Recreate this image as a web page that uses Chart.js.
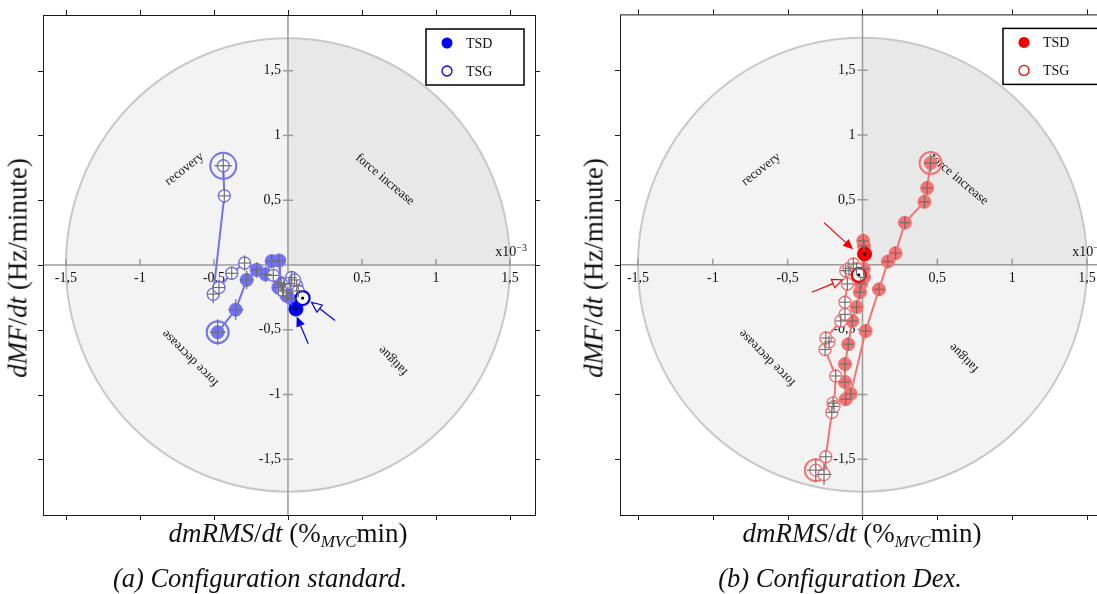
<!DOCTYPE html>
<html>
<head>
<meta charset="utf-8">
<script src="https://cdn.jsdelivr.net/npm/chart.js@4.4.0/dist/chart.umd.min.js"></script>
<style>
  body { margin: 0; background: #fff; width: 1097px; height: 594px; overflow: hidden; position: relative;
         font-family: "Liberation Serif", "DejaVu Serif", serif; color: #111; }
  .panel { position: absolute; top: 0; width: 560px; height: 545px; }
  .ytitle { position: absolute; top: 268px; font-size: 27px; white-space: nowrap;
            transform: translate(-50%, -50%) rotate(-90deg); }
  .xtitle { position: absolute; top: 533px; font-size: 27px; white-space: nowrap; transform: translate(-50%, -50%); }
  .caption { position: absolute; top: 578px; font-size: 26.5px; font-style: italic; white-space: nowrap; transform: translate(-50%, -50%); }
  i { font-style: italic; }
  sub { font-size: 17px; font-style: italic; vertical-align: -5px; line-height: 0; }
</style>
</head>
<body>
<div class="panel" style="left:0"><canvas id="std"></canvas></div>
<div class="panel" style="left:577px"><canvas id="dex"></canvas></div>

<div class="ytitle" style="left:18px"><i>dMF</i>/<i>dt</i> (Hz/minute)</div>
<div class="ytitle" style="left:594px"><i>dMF</i>/<i>dt</i> (Hz/minute)</div>
<div class="xtitle" style="left:288px"><i>dmRMS</i>/<i>dt</i> (%<sub>MVC</sub>min)</div>
<div class="xtitle" style="left:862px"><i>dmRMS</i>/<i>dt</i> (%<sub>MVC</sub>min)</div>
<div class="caption" style="left:260px">(a) Configuration standard.</div>
<div class="caption" style="left:840px">(b) Configuration Dex.</div>

<script>
// axes (x in 10^-3 %MVC/min, y in Hz/minute)
const yRange = [-1.93, 1.93];
const stdXRange = [-1.655, 1.669];
const dexXRange = [-1.62, 1.667];
const tickValues = [-1.5, -1, -0.5, 0.5, 1, 1.5];
const diskRadius = [1.5, 1.75];

// (a) configuration standard
const stdTsdX = [-0.475, -0.353, -0.279, -0.211, -0.151, -0.110, -0.059, -0.054, -0.065, -0.045, -0.032, -0.009, 0.000, 0.025, 0.054];
const stdTsdY = [-0.519, -0.345, -0.115, -0.038, -0.072, 0.030, 0.035, -0.136, -0.174, -0.160, -0.200, -0.238, -0.215, -0.263, -0.340];
const stdTsdXErr = [0.055, 0.05, 0.045, 0.04, 0.04, 0.035, 0.035, 0.035, 0.035, 0.035, 0.035, 0.035, 0.035, 0.035, 0];
const stdTsdYErr = [0.10, 0.08, 0.07, 0.06, 0.06, 0.05, 0.05, 0.05, 0.05, 0.05, 0.05, 0.05, 0.05, 0.05, 0];
const stdTsgX = [-0.437, -0.430, -0.505, -0.466, -0.380, -0.293, -0.099, -0.027, -0.036, 0.014, 0.025, 0.059, 0.045, 0.070, 0.099];
const stdTsgY = [0.766, 0.534, -0.225, -0.174, -0.064, 0.015, -0.080, -0.148, -0.194, -0.143, -0.097, -0.161, -0.115, -0.200, -0.255];
const stdTsgXErr = [0.06, 0.04, 0.04, 0.04, 0.04, 0.04, 0.035, 0.035, 0.035, 0.035, 0.035, 0.035, 0.035, 0.035, 0];
const stdTsgYErr = [0.09, 0.06, 0.07, 0.06, 0.05, 0.06, 0.05, 0.05, 0.05, 0.05, 0.05, 0.05, 0.05, 0.05, 0];

// (b) configuration Dex
const dexTsdX = [0.455, 0.432, 0.414, 0.283, 0.221, 0.170, 0.110, 0.021, -0.079, -0.112, -0.117, -0.117, -0.095, -0.068, -0.039, -0.017, -0.010, 0.010, 0.008, 0.005, 0.010, 0.014];
const dexTsdY = [0.784, 0.592, 0.485, 0.324, 0.089, 0.025, -0.190, -0.511, -0.996, -1.037, -0.904, -0.766, -0.613, -0.434, -0.327, -0.212, -0.148, -0.097, -0.033, 0.184, 0.146, 0.082];
const dexTsdXErr = [0.045, 0.035, 0.035, 0.035, 0.035, 0.035, 0.035, 0.035, 0.035, 0.035, 0.035, 0.035, 0.035, 0.035, 0.035, 0.035, 0.035, 0.035, 0.035, 0.035, 0.035, 0];
const dexTsdYErr = [0.07, 0.05, 0.05, 0.05, 0.05, 0.05, 0.05, 0.05, 0.05, 0.05, 0.05, 0.05, 0.05, 0.05, 0.05, 0.05, 0.05, 0.05, 0.05, 0.05, 0.05, 0];
const dexTsgX = [-0.312, -0.257, -0.245, -0.205, -0.197, -0.190, -0.179, -0.250, -0.223, -0.245, -0.145, -0.117, -0.117, -0.101, -0.112, -0.090, -0.061, -0.040, -0.025];
const dexTsgY = [-1.584, -1.617, -1.481, -1.139, -1.067, -1.093, -0.858, -0.654, -0.595, -0.565, -0.434, -0.383, -0.289, -0.148, -0.046, -0.028, 0.005, -0.030, -0.079];
const dexTsgXErr = [0.06, 0.05, 0.04, 0.035, 0.035, 0.035, 0.035, 0.035, 0.035, 0.035, 0.035, 0.035, 0.035, 0.035, 0.035, 0.035, 0.035, 0.035, 0];
const dexTsgYErr = [0.09, 0.08, 0.05, 0.05, 0.05, 0.05, 0.05, 0.05, 0.05, 0.05, 0.05, 0.05, 0.05, 0.05, 0.05, 0.05, 0.05, 0.05, 0];

// quadrant labels: [text, x, y, angle in degrees]
const regionLabels = ['recovery', 'force increase', 'force decrease', 'fatigue'];
const stdLabelPos = [[-0.70, 0.74, -38], [0.655, 0.66, 40], [-0.66, -0.72, 225], [0.71, -0.74, 225]];
const dexLabelPos = [[-0.677, 0.736, -38], [0.643, 0.659, 40], [-0.637, -0.72, 225], [0.677, -0.72, 225]];

// arrows pointing at the last points: [x0, y0, x1, y1, filled head]
const stdArrows = [[0.137, -0.608, 0.059, -0.398, true], [0.318, -0.429, 0.16, -0.289, false]];
const dexArrows = [[-0.257, 0.324, -0.063, 0.12, true], [-0.339, -0.212, -0.135, -0.117, false]];

const tickFont = { family: '"Liberation Serif", serif', size: 14 };
const fmt = v => v === 0 ? '' : String(v).replace('.', ',');
// y labels sit right-aligned on the axis, pad them a little
const fmtY = v => v === 0 ? '' : fmt(v) + '  ';

function makeDeco(cfg) {
  function line(ctx, x0, y0, x1, y1) { ctx.beginPath(); ctx.moveTo(x0, y0); ctx.lineTo(x1, y1); ctx.stroke(); }
  return {
    id: 'deco',
    beforeDraw(chart) {
      const { ctx, chartArea: a, scales: { x, y } } = chart;
      const cx = x.getPixelForValue(0), cy = y.getPixelForValue(0);
      const rx = x.getPixelForValue(diskRadius[0]) - cx, ry = cy - y.getPixelForValue(diskRadius[1]);
      ctx.save();
      ctx.beginPath(); ctx.rect(a.left, a.top, a.width, a.height); ctx.clip();
      ctx.beginPath(); ctx.ellipse(cx, cy, rx, ry, 0, 0, Math.PI * 2);
      ctx.fillStyle = '#f3f3f3'; ctx.fill();
      ctx.beginPath(); ctx.moveTo(cx, cy); ctx.ellipse(cx, cy, rx, ry, 0, -Math.PI / 2, 0); ctx.closePath();
      ctx.fillStyle = '#e8e8e8'; ctx.fill();
      ctx.beginPath(); ctx.ellipse(cx, cy, rx, ry, 0, 0, Math.PI * 2);
      ctx.strokeStyle = '#c8c8c8'; ctx.lineWidth = 2; ctx.stroke();
      // centre axes and their ticks
      ctx.strokeStyle = '#9a9a9a'; ctx.lineWidth = 1.5;
      line(ctx, a.left, cy, a.right, cy);
      line(ctx, cx, a.top, cx, a.bottom);
      tickValues.forEach(v => {
        const px = x.getPixelForValue(v), py = y.getPixelForValue(v);
        line(ctx, px, cy - 6, px, cy + 1);
        line(ctx, cx - 5, py, cx + 5, py);
      });
      // quadrant labels
      ctx.fillStyle = '#111'; ctx.font = '13px "Liberation Serif", serif';
      ctx.textAlign = 'center'; ctx.textBaseline = 'middle';
      cfg.labels.forEach((p, i) => {
        ctx.save();
        ctx.translate(x.getPixelForValue(p[0]), y.getPixelForValue(p[1]));
        ctx.rotate(p[2] * Math.PI / 180);
        ctx.fillText(regionLabels[i], 0, 0);
        ctx.restore();
      });
      ctx.restore();
    },
    afterDatasetsDraw(chart) {
      const { ctx, scales: { x, y } } = chart;
      ctx.save();
      // error bars
      ctx.strokeStyle = '#6e6e6e'; ctx.lineWidth = 1.2;
      [cfg.tsd, cfg.tsg].forEach(s => {
        s.x.forEach((v, i) => {
          if (!s.xErr[i]) return;
          const px = x.getPixelForValue(v), py = y.getPixelForValue(s.y[i]);
          line(ctx, x.getPixelForValue(v - s.xErr[i]), py, x.getPixelForValue(v + s.xErr[i]), py);
          line(ctx, px, y.getPixelForValue(s.y[i] - s.yErr[i]), px, y.getPixelForValue(s.y[i] + s.yErr[i]));
        });
      });
      // centre marks of the last points
      ctx.fillStyle = '#000';
      [cfg.tsd, cfg.tsg].forEach(s => {
        const k = s.x.length - 1;
        ctx.beginPath();
        ctx.arc(x.getPixelForValue(s.x[k]), y.getPixelForValue(s.y[k]), 1.6, 0, Math.PI * 2);
        ctx.fill();
      });
      // arrows
      ctx.strokeStyle = cfg.dark; ctx.fillStyle = cfg.dark; ctx.lineWidth = 1.2;
      cfg.arrows.forEach(a => {
        const x0 = x.getPixelForValue(a[0]), y0 = y.getPixelForValue(a[1]);
        const x1 = x.getPixelForValue(a[2]), y1 = y.getPixelForValue(a[3]);
        const ang = Math.atan2(y1 - y0, x1 - x0), L = 10, W = 4.5;
        const bx = x1 - L * Math.cos(ang), by = y1 - L * Math.sin(ang);
        line(ctx, x0, y0, bx, by);
        ctx.beginPath();
        ctx.moveTo(x1, y1);
        ctx.lineTo(bx + W * Math.sin(ang), by - W * Math.cos(ang));
        ctx.lineTo(bx - W * Math.sin(ang), by + W * Math.cos(ang));
        ctx.closePath();
        if (a[4]) ctx.fill(); else { ctx.fillStyle = '#fff'; ctx.fill(); ctx.stroke(); ctx.fillStyle = cfg.dark; }
      });
      ctx.restore();
    },
    afterDraw(chart) {
      const { ctx, chartArea: a, scales: { x, y } } = chart;
      const cy = y.getPixelForValue(0);
      ctx.save();
      // frame with outer ticks
      ctx.strokeStyle = '#1a1a1a'; ctx.lineWidth = 1;
      ctx.strokeRect(a.left + 0.5, a.top + 0.5, a.width, a.height);
      tickValues.concat([0]).forEach(v => {
        const px = Math.round(x.getPixelForValue(v)) + 0.5, py = Math.round(y.getPixelForValue(v)) + 0.5;
        line(ctx, px, a.top, px, a.top - 5);
        line(ctx, px, a.bottom, px, a.bottom + 5);
        line(ctx, a.left, py, a.left - 5, py);
        line(ctx, a.right, py, a.right + 5, py);
      });
      // exponent
      ctx.fillStyle = '#111'; ctx.textBaseline = 'alphabetic'; ctx.textAlign = 'right';
      ctx.font = '10px "Liberation Serif", serif';
      ctx.fillText('\u22123', a.right - 8, cy - 14);
      const w = ctx.measureText('\u22123').width;
      ctx.font = '14px "Liberation Serif", serif';
      ctx.fillText('x10', a.right - 8 - w, cy - 9);
      // legend
      const bx = a.right - 109, by = a.top + 14, bw = 98, bh = 56;
      ctx.fillStyle = '#fff'; ctx.fillRect(bx, by, bw, bh);
      ctx.lineWidth = 1.5; ctx.strokeStyle = '#000'; ctx.strokeRect(bx, by, bw, bh);
      ctx.beginPath(); ctx.arc(bx + 21, by + 14, 5.5, 0, Math.PI * 2);
      ctx.fillStyle = cfg.dark; ctx.fill();
      ctx.beginPath(); ctx.arc(bx + 21, by + 42, 5, 0, Math.PI * 2);
      ctx.fillStyle = '#fff'; ctx.fill(); ctx.lineWidth = 1.3; ctx.strokeStyle = cfg.dark; ctx.stroke();
      ctx.fillStyle = '#111'; ctx.textAlign = 'left'; ctx.textBaseline = 'middle';
      ctx.fillText('TSD', bx + 40, by + 15);
      ctx.fillText('TSG', bx + 40, by + 43);
      ctx.restore();
    }
  };
}

function makeChart(id, cfg) {
  const pts = s => s.x.map((v, i) => ({ x: v, y: s.y[i] }));
  const tsd = pts(cfg.tsd), tsg = pts(cfg.tsg);
  const nD = tsd.length - 1, nG = tsg.length - 1;
  new Chart(document.getElementById(id), {
    type: 'scatter',
    data: {
      datasets: [
        { label: 'TSG', data: tsg, showLine: true, borderColor: cfg.line, borderWidth: 2,
          pointRadius: c => c.dataIndex === nG ? 7 : 6,
          pointBackgroundColor: '#fff',
          pointBorderColor: c => c.dataIndex === nG ? cfg.dark : cfg.line,
          pointBorderWidth: c => c.dataIndex === nG ? 2.2 : 1.4 },
        { label: 'TSD', data: tsd, showLine: true, borderColor: cfg.line, borderWidth: 2,
          pointRadius: c => c.dataIndex === nD ? 7 : 6.5,
          pointBackgroundColor: c => c.dataIndex === nD ? cfg.dark : cfg.line,
          pointBorderColor: c => c.dataIndex === nD ? cfg.dark : cfg.line,
          pointBorderWidth: 1 },
        { label: 'TSG start', data: [tsg[0]], pointRadius: cfg.rings[1], pointBackgroundColor: 'rgba(0,0,0,0)',
          pointBorderColor: cfg.line, pointBorderWidth: 2 },
        { label: 'TSD start', data: [tsd[0]], pointRadius: cfg.rings[0], pointBackgroundColor: 'rgba(0,0,0,0)',
          pointBorderColor: cfg.line, pointBorderWidth: 2 }
      ]
    },
    options: {
      responsive: true, maintainAspectRatio: false, animation: false,
      layout: { padding: { left: 43, top: 12, right: 25, bottom: 30 } },
      plugins: { legend: { display: false }, tooltip: { enabled: false } },
      scales: {
        x: { type: 'linear', min: cfg.xRange[0], max: cfg.xRange[1], position: { y: 0 },
             grid: { display: false, drawTicks: false }, border: { display: false },
             ticks: { stepSize: 0.5, includeBounds: false, padding: 5, color: '#111', font: tickFont,
                      callback: fmt, maxRotation: 0, autoSkip: false } },
        y: { type: 'linear', min: yRange[0], max: yRange[1], position: { x: 0 },
             grid: { display: false, drawTicks: false }, border: { display: false },
             ticks: { stepSize: 0.5, includeBounds: false, padding: 6, color: '#111', font: tickFont,
                      callback: fmtY, autoSkip: false } }
      }
    },
    plugins: [makeDeco(cfg)]
  });
}

makeChart('std', {
  xRange: stdXRange,
  tsd: { x: stdTsdX, y: stdTsdY, xErr: stdTsdXErr, yErr: stdTsdYErr },
  tsg: { x: stdTsgX, y: stdTsgY, xErr: stdTsgXErr, yErr: stdTsgYErr },
  line: '#7272f3', dark: '#0000f0', rings: [11, 13],
  labels: stdLabelPos, arrows: stdArrows
});
makeChart('dex', {
  xRange: dexXRange,
  tsd: { x: dexTsdX, y: dexTsdY, xErr: dexTsdXErr, yErr: dexTsdYErr },
  tsg: { x: dexTsgX, y: dexTsgY, xErr: dexTsgXErr, yErr: dexTsgYErr },
  line: '#f87272', dark: '#f00000', rings: [11, 11],
  labels: dexLabelPos, arrows: dexArrows
});
</script>
</body>
</html>
